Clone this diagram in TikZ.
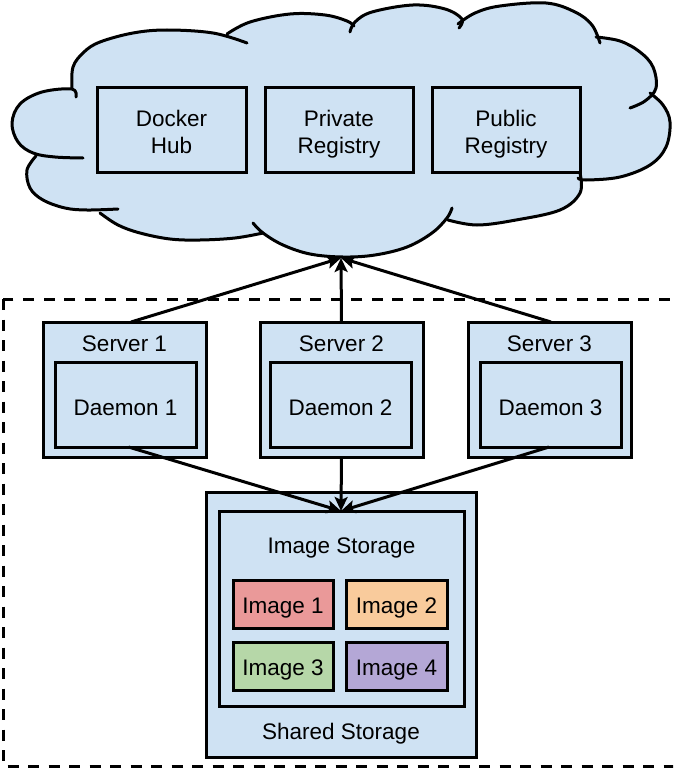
\documentclass[tikz,border=0pt]{standalone}
\usepackage{fontspec}
\setmainfont{Liberation Sans}
\usetikzlibrary{arrows.meta,calc}
\definecolor{cloudblue}{HTML}{CFE2F3}
\definecolor{imgred}{HTML}{EA9999}
\definecolor{imgorange}{HTML}{F9CB9C}
\definecolor{imggreen}{HTML}{B6D7A8}
\definecolor{imgpurple}{HTML}{B4A7D6}
\newcommand{\twolines}[2]{\raisebox{0pt}[21pt][0pt]{#1}\\\raisebox{0pt}[0pt][0pt]{#2}}
\begin{document}
\begin{tikzpicture}[x=1pt,y=-1pt,
  txt/.style={font=\fontsize{22.5}{27}\selectfont},
  box/.style={draw=black, line width=3pt, fill=cloudblue, inner sep=0pt, outer sep=0pt, align=center, txt},
  oneline/.style={text height=21pt, text depth=0pt},
  lbl/.style={inner sep=0pt, outer sep=0pt, txt, text height=16pt, text depth=0pt},
  cloudline/.style={draw=black, line width=3pt, line cap=round, line join=round},
  link/.style={line width=3pt, -{Stealth[length=14pt,width=13pt,inset=3pt]}},
  frame/.style={draw=black, line width=3pt, dash pattern=on 11pt off 9.5pt}
]
\useasboundingbox (0,0) rectangle (673,768);
\clip (0,0) rectangle (673,768);

% dashed frame
\draw[frame] (3,299) rectangle (720,766);

% cloud (all bumps listed clockwise)
\coordinate (cc) at (340,130);
\def\bA{(83,158) (55,157) (33,153) (18,142) (12,123) (20,104) (42,92) (72,89) (76,97)}
\def\bB{(72,89) (73,67) (84,52) (100,42) (133,33) (167,30) (213,33) (247,43)}
\def\bC{(227,34) (250,22) (290,14) (325,15) (347,21) (354,26)}
\def\bD{(350,32) (355,22) (372,12) (413,5) (445,9) (462,19) (459,28)}
\def\bE{(458,24) (475,13) (500,6) (546,3) (575,12) (592,25) (600,43)}
\def\bF{(596,37) (620,41) (640,52) (653,67) (656,88) (645,101) (630,108)}
\def\bG{(650,93) (663,105) (670,122) (666,147) (650,165) (620,177) (586,180) (578,178)}
\def\bH{(580,173) (580,193) (560,210) (516,220) (477,225) (448,220)}
\def\bI{(452,208) (447,218) (432,233) (407,247) (375,255) (343,257) (310,254) (283,245) (263,233) (253,223)}
\def\bJ{(263,233) (235,238) (200,240) (170,239) (140,233) (118,225) (100,213)}
\def\bK{(118,209) (87,210) (65,208) (43,200) (30,188) (27,170) (36,156)}
\fill[cloudblue] (40,155) -- (74,91) -- (228,35) -- (352,28) -- (458,26) -- (598,40)
  -- (652,95) -- (580,176) -- (450,216) -- (258,228) -- (102,212) -- cycle;
\foreach \b in {\bA,\bB,\bC,\bD,\bE,\bF,\bG,\bH,\bI,\bJ,\bK}{
  \fill[cloudblue] (cc) -- plot[smooth,tension=0.6] coordinates \b -- cycle;
}
\foreach \b in {\bA,\bB,\bC,\bD,\bE,\bF,\bG,\bH,\bI,\bJ,\bK}{
  \draw[cloudline] plot[smooth,tension=0.6] coordinates \b;
}
\coordinate (ct) at (341,258);

% registries
\node[box, minimum width=149pt, minimum height=85pt] (hub) at (171.5,129.5) {\twolines{Docker}{Hub}};
\node[box, minimum width=148pt, minimum height=85pt] (priv) at (339,129.5) {\twolines{Private}{Registry}};
\node[box, minimum width=148pt, minimum height=85pt] (pub) at (506,129.5) {\twolines{Public}{Registry}};

% servers
\node[box, minimum width=163pt, minimum height=135pt] (s1) at (124.5,389.5) {};
\node[box, minimum width=163pt, minimum height=135pt] (s2) at (341.5,389.5) {};
\node[box, minimum width=163pt, minimum height=135pt] (s3) at (549.5,389.5) {};
\node[lbl] (s1l) at (124.5,343) {Server 1};
\node[lbl] (s2l) at (341.5,343) {Server 2};
\node[lbl] (s3l) at (549.5,343) {Server 3};
\node[box, oneline, minimum width=141pt, minimum height=85pt] (d1) at (125.5,404.5) {Daemon 1};
\node[box, oneline, minimum width=141pt, minimum height=85pt] (d2) at (340.5,404.5) {Daemon 2};
\node[box, oneline, minimum width=141pt, minimum height=85pt] (d3) at (550.5,404.5) {Daemon 3};

% storage
\node[box, minimum width=270pt, minimum height=265pt] (shared) at (341,624.5) {};
\node[box, minimum width=245pt, minimum height=195pt] (istore) at (341.5,608.5) {};
\node[inner sep=0pt, txt, anchor=base] (istl) at (341.5,553) {Image Storage};
\node[inner sep=0pt, txt, anchor=base] (shl) at (341,739) {Shared Storage};
\node[box, text height=18pt, text depth=0pt, fill=imgred, minimum width=100pt, minimum height=48pt] (i1) at (283,604) {Image 1};
\node[box, text height=18pt, text depth=0pt, fill=imgorange, minimum width=101pt, minimum height=48pt] (i2) at (396.5,604) {Image 2};
\node[box, text height=18pt, text depth=0pt, fill=imggreen, minimum width=100pt, minimum height=48pt] (i3) at (283,666) {Image 3};
\node[box, text height=18pt, text depth=0pt, fill=imgpurple, minimum width=101pt, minimum height=48pt] (i4) at (396.5,666) {Image 4};
\coordinate (st) at (341,511);

% connectors
\draw[link] ([xshift=6.5pt]s1.north) -- (ct);
\draw[link] (s2.north) -- (ct);
\draw[link] ([xshift=1.5pt]s3.north) -- (ct);
\draw[link] ([xshift=3pt]d1.south) -- (st);
\draw[link] (s2.south) -- (st);
\draw[link] ([xshift=-1.5pt]d3.south) -- (st);
\end{tikzpicture}
\end{document}
